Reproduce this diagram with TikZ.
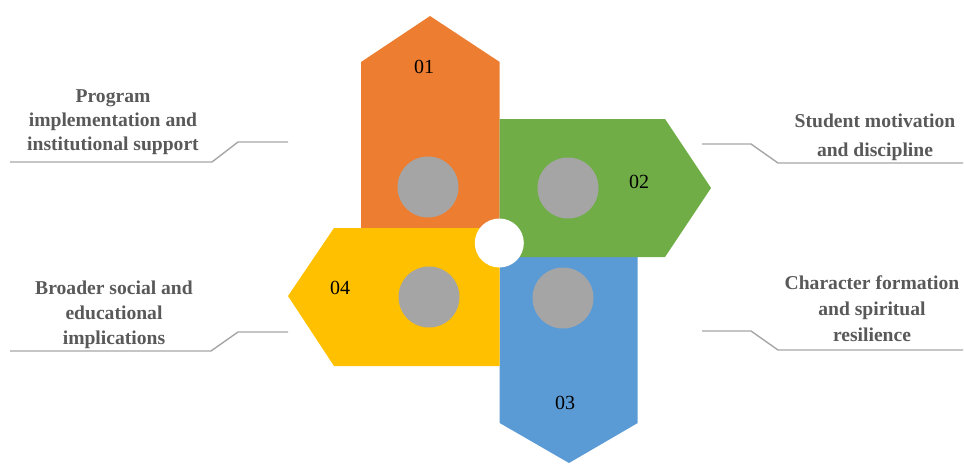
\documentclass[tikz,border=0pt]{standalone}
\usepackage{fontspec}
\setmainfont{Liberation Serif}
\definecolor{petalorange}{HTML}{ED7D31}
\definecolor{petalgreen}{HTML}{70AD47}
\definecolor{petalblue}{HTML}{5B9BD5}
\definecolor{petalyellow}{HTML}{FFC000}
\definecolor{dotgray}{HTML}{A5A5A5}
\definecolor{leadergray}{HTML}{A6A6A6}
\definecolor{captiongray}{HTML}{595959}
\begin{document}
\begin{tikzpicture}[x=1pt,y=-1pt,
  dot/.style={circle,fill=dotgray,minimum size=61pt,inner sep=0pt},
  hub/.style={circle,fill=white,minimum size=49pt,inner sep=0pt},
  numtag/.style={font=\fontsize{20}{22}\selectfont,text=black,inner sep=0pt},
  caption/.style={font=\bfseries\fontsize{19.6}{24}\selectfont,text=captiongray,align=center,inner sep=0pt},
  leader/.style={draw=leadergray,line width=1.4pt}]
\useasboundingbox (0,0) rectangle (964,464);

% four arrow-shaped petals around the hub
\fill[petalorange] (361,257) -- (361,62) -- (430,16) -- (499.7,62) -- (499.7,257) -- cycle;
\fill[petalblue]   (499.7,228) -- (637.7,228) -- (637.7,423) -- (569,463) -- (499.7,423) -- cycle;
\fill[petalgreen]  (499.7,119) -- (665,119) -- (711,188) -- (665,257) -- (499.7,257) -- cycle;
\fill[petalyellow] (499.7,228) -- (334,228) -- (288,296) -- (334,366) -- (499.7,366) -- cycle;

\node[hub] (hub) at (499.3,243) {};

\node[dot] (d1) at (428,187) {};
\node[dot] (d2) at (568,188) {};
\node[dot] (d3) at (563,298) {};
\node[dot] (d4) at (429,297) {};

\node[numtag] (n1) at (424,67) {01};
\node[numtag] (n2) at (639,182) {02};
\node[numtag] (n3) at (565,403) {03};
\node[numtag] (n4) at (340,288) {04};

% captions
\node[caption] (c1) at (113,122) {Program\\implementation and\\institutional support};
\node[caption,font=\bfseries\fontsize{19.6}{29}\selectfont] (c2) at (875,137.5) {Student motivation\\and discipline};
\node[caption,font=\bfseries\fontsize{19.6}{26}\selectfont] (c3) at (872,309) {Character formation\\and spiritual\\resilience};
\node[caption,font=\bfseries\fontsize{19.6}{25}\selectfont] (c4) at (114,315) {Broader social and\\educational\\implications};

% leader lines under the captions
\coordinate (l1a) at (10,162);  \coordinate (l1b) at (212,162);
\coordinate (l1c) at (238,142); \coordinate (l1d) at (288,142);
\draw[leader] (l1a) -- (l1b) -- (l1c) -- (l1d);

\coordinate (l2a) at (702,144); \coordinate (l2b) at (751,144);
\coordinate (l2c) at (778,163); \coordinate (l2d) at (963,163);
\draw[leader] (l2a) -- (l2b) -- (l2c) -- (l2d);

\coordinate (l3a) at (702,331); \coordinate (l3b) at (751,331);
\coordinate (l3c) at (778,350); \coordinate (l3d) at (963,350);
\draw[leader] (l3a) -- (l3b) -- (l3c) -- (l3d);

\coordinate (l4a) at (10,351);  \coordinate (l4b) at (211,351);
\coordinate (l4c) at (238,332); \coordinate (l4d) at (288,332);
\draw[leader] (l4a) -- (l4b) -- (l4c) -- (l4d);
\end{tikzpicture}
\end{document}
